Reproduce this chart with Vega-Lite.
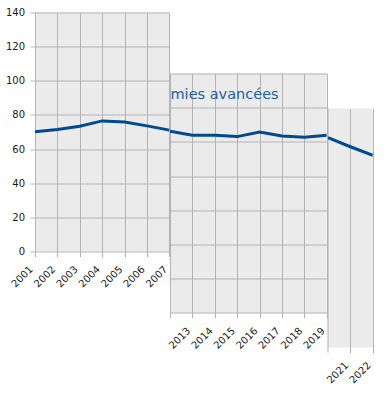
{
  "$schema": "https://vega.github.io/schema/vega-lite/v6.json",
  "background": "white",
  "padding": {"left": 5, "top": 7.5, "right": 0, "bottom": 0},
  "config": {
    "view": {"stroke": null},
    "axis": {
      "gridColor": "#b3b3b3",
      "gridWidth": 1,
      "tickColor": "#b3b3b3",
      "tickSize": 5,
      "domain": false,
      "labelFont": "DejaVu Sans",
      "labelFontSize": 10,
      "labelColor": "#1a1a1a",
      "labelOverlap": false,
      "labelFlush": false,
      "title": null
    }
  },
  "datasets": {
    "p1": [
      {"year": 2001, "v": 70.1},
      {"year": 2002, "v": 71.5},
      {"year": 2003, "v": 73.4},
      {"year": 2004, "v": 76.5},
      {"year": 2005, "v": 75.9},
      {"year": 2006, "v": 73.6},
      {"year": 2007, "v": 71.1}
    ],
    "p2": [
      {"year": 2012, "v": 66.2},
      {"year": 2013, "v": 63.9},
      {"year": 2014, "v": 63.9},
      {"year": 2015, "v": 63.1},
      {"year": 2016, "v": 65.8},
      {"year": 2017, "v": 63.4},
      {"year": 2018, "v": 62.7},
      {"year": 2019, "v": 63.9}
    ],
    "p3": [
      {"year": 2020, "v": 62.9},
      {"year": 2021, "v": 57.6},
      {"year": 2022, "v": 52.6}
    ],
    "label": [{"text": "mies avancées"}],
    "one": [{"year": 2020}],
    "empty": []
  },
  "spacing": -20,
  "hconcat": [
    {
      "width": 134.4,
      "height": 239,
      "view": {"fill": "#ebebeb", "stroke": null},
      "data": {"name": "p1"},
      "mark": {"type": "line", "color": "#004a8f", "strokeWidth": 3, "clip": true},
      "encoding": {
        "x": {
          "field": "year", "type": "quantitative",
          "scale": {"domain": [2001, 2007], "nice": false, "zero": false},
          "axis": {"values": [2001, 2002, 2003, 2004, 2005, 2006, 2007], "tickCount": 7, "format": "d", "labelAngle": -45, "labelAlign": "right", "labelBaseline": "middle", "labelPadding": 11, "labelOffset": -4, "labelOverlap": false, "labelFlush": false}
        },
        "y": {
          "field": "v", "type": "quantitative",
          "scale": {"domain": [0, 140], "nice": false},
          "axis": {"values": [0, 20, 40, 60, 80, 100, 120, 140], "tickCount": 8, "labelPadding": 5.5}
        }
      }
    },
    {
      "spacing": -20,
      "hconcat": [
        {
          "spacing": 0,
          "vconcat": [
            {
              "width": 10, "height": 61,
              "view": {"fill": null, "stroke": null},
              "data": {"name": "empty"},
              "mark": "rule",
              "encoding": {}
            },
            {
              "width": 156.8,
              "height": 239.4,
              "view": {"fill": "#ebebeb", "stroke": null},
              "layer": [
                {
                  "data": {"name": "p2"},
                  "mark": {"type": "line", "color": "#004a8f", "strokeWidth": 3, "clip": true},
                  "encoding": {
                    "x": {
                      "field": "year", "type": "quantitative",
                      "scale": {"domain": [2012, 2019], "nice": false, "zero": false},
                      "axis": {"values": [2012, 2013, 2014, 2015, 2016, 2017, 2018, 2019], "tickCount": 8, "format": "d", "labelExpr": "datum.value == 2012 ? '' : datum.label", "labelAngle": -45, "labelAlign": "right", "labelBaseline": "middle", "labelPadding": 11, "labelOffset": -4, "labelOverlap": false, "labelFlush": false}
                    },
                    "y": {
                      "field": "v", "type": "quantitative",
                      "scale": {"domain": [-40, 100], "nice": false},
                      "axis": {"values": [-40, -20, 0, 20, 40, 60, 80, 100], "tickCount": 8, "labels": false, "ticks": false}
                    }
                  }
                },
                {
                  "data": {"name": "label"},
                  "mark": {"type": "text", "align": "left", "baseline": "alphabetic", "font": "DejaVu Sans", "fontSize": 14.5, "color": "#1f5ea8", "dx": 0.5},
                  "encoding": {
                    "text": {"field": "text"},
                    "x": {
                      "datum": 2012, "type": "quantitative",
                      "axis": {"values": [2012, 2013, 2014, 2015, 2016, 2017, 2018, 2019], "tickCount": 8, "format": "d", "labelExpr": "datum.value == 2012 ? '' : datum.label", "labelAngle": -45, "labelAlign": "right", "labelBaseline": "middle", "labelPadding": 11, "labelOffset": -4, "labelOverlap": false, "labelFlush": false}
                    },
                    "y": {
                      "datum": 84.9, "type": "quantitative",
                      "axis": {"values": [-40, -20, 0, 20, 40, 60, 80, 100], "tickCount": 8, "labels": false, "ticks": false}
                    }
                  }
                }
              ]
            }
          ]
        },
        {
          "spacing": 0,
          "vconcat": [
            {
              "width": 10, "height": 95,
              "view": {"fill": null, "stroke": null},
              "data": {"name": "empty"},
              "mark": "rule",
              "encoding": {}
            },
            {
              "width": 44.8,
              "height": 239,
              "view": {"fill": "#ebebeb", "stroke": null},
              "layer": [
                {
                  "data": {"name": "one"},
                  "mark": {"type": "rule", "color": "#b3b3b3", "strokeWidth": 1, "clip": false},
                  "encoding": {
                    "x": {
                      "field": "year", "type": "quantitative",
                      "axis": {"values": [2021, 2022], "tickCount": 2, "format": "d", "labelAngle": -45, "labelAlign": "right", "labelBaseline": "middle", "labelPadding": 11, "labelOffset": -4, "labelOverlap": false, "labelFlush": false}
                    },
                    "y": {
                      "datum": 80, "type": "quantitative",
                      "axis": {"values": [-60, -40, -20, 0, 20, 40, 60, 80], "tickCount": 8, "labels": false, "ticks": false}
                    },
                    "y2": {"datum": -62.93}
                  }
                },
                {
                  "data": {"name": "p3"},
                  "mark": {"type": "line", "color": "#004a8f", "strokeWidth": 3, "clip": true},
                  "encoding": {
                    "x": {
                      "field": "year", "type": "quantitative",
                      "scale": {"domain": [2020, 2022], "nice": false, "zero": false},
                      "axis": {"values": [2021, 2022], "tickCount": 2, "format": "d", "labelAngle": -45, "labelAlign": "right", "labelBaseline": "middle", "labelPadding": 11, "labelOffset": -4, "labelOverlap": false, "labelFlush": false}
                    },
                    "y": {
                      "field": "v", "type": "quantitative",
                      "scale": {"domain": [-60, 80], "nice": false},
                      "axis": {"values": [-60, -40, -20, 0, 20, 40, 60, 80], "tickCount": 8, "labels": false, "ticks": false}
                    }
                  }
                }
              ]
            }
          ]
        }
      ]
    }
  ]
}
